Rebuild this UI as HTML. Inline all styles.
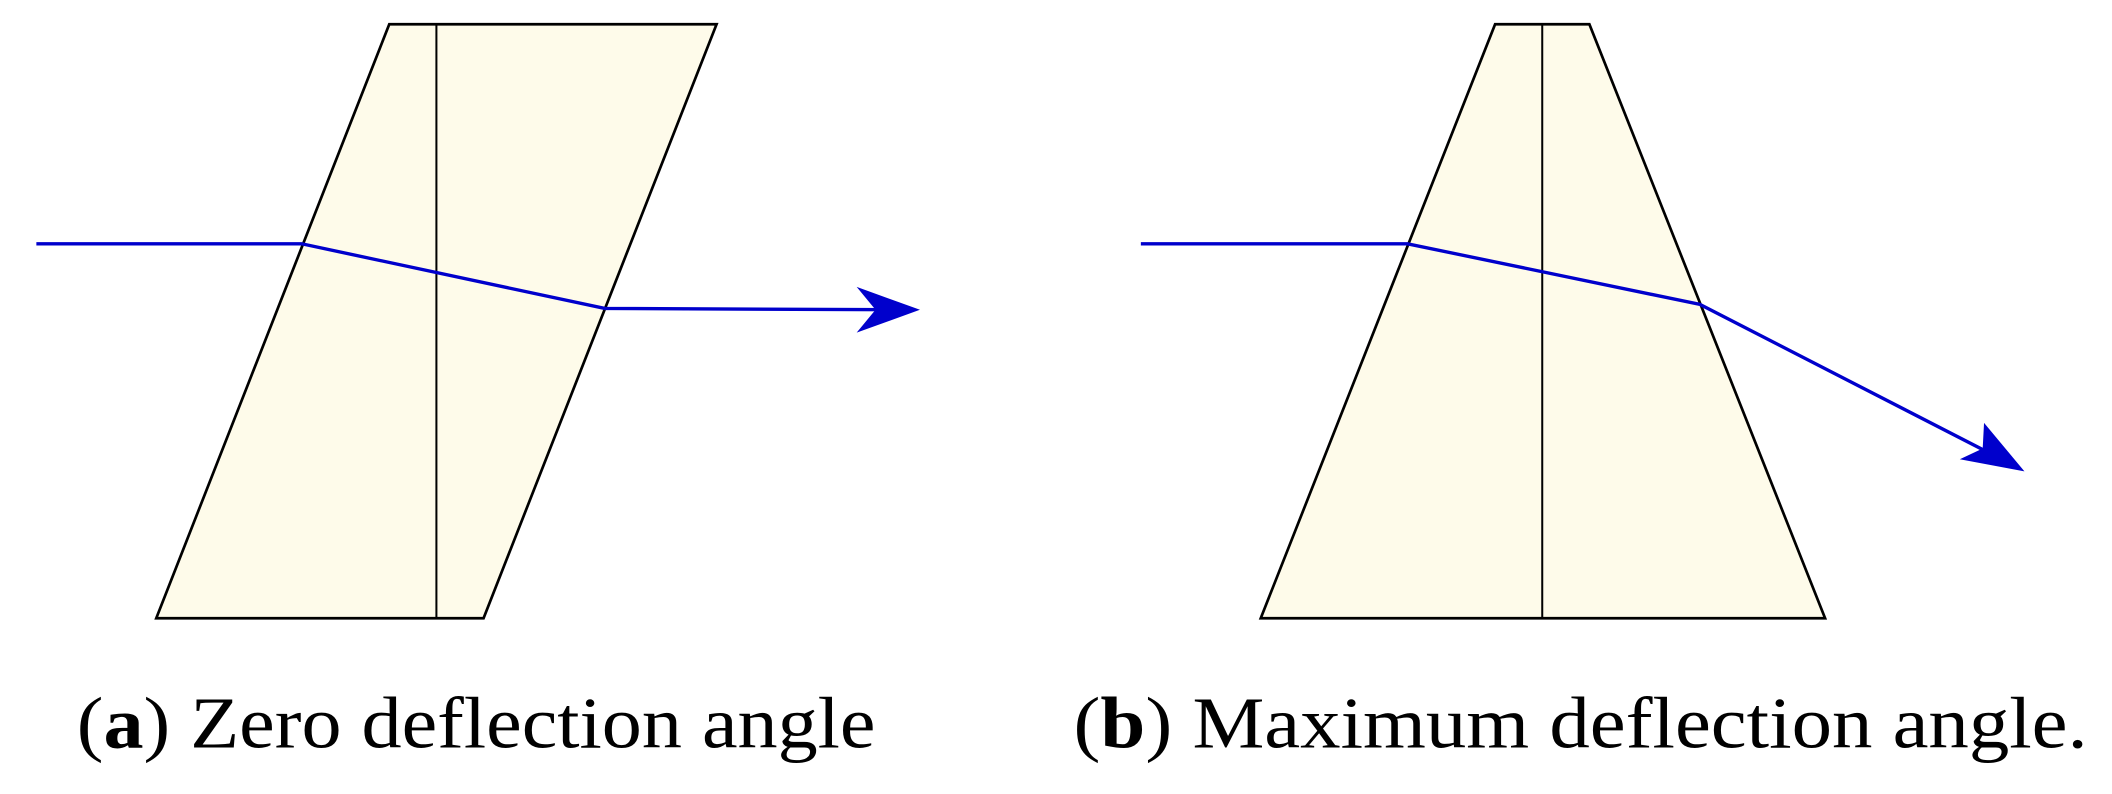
<!DOCTYPE html>
<html><head><meta charset="utf-8"><style>html,body{margin:0;padding:0;background:#fff;}svg{display:block}</style></head>
<body>
<svg width="2112" height="794" viewBox="0 0 1568 589.5" preserveAspectRatio="none" xmlns="http://www.w3.org/2000/svg">
<g stroke="#000" stroke-width="2" fill="#fefbea">
<polygon points="289,18 532,18 359,459 116,459"/>
<polygon points="1110,18 1180,18 1355,459 936,459"/>
</g>
<g stroke="#000" stroke-width="1.5">
<line x1="324" y1="18" x2="324" y2="459"/>
<line x1="1145" y1="18" x2="1145" y2="459"/>
</g>
<g stroke="#0000cc" stroke-width="2.5" fill="none">
<polyline points="27,181 224,181 449,229 670,230"/>
<path d="M683,230 L636,213 L650,230 L636,247 z" fill="#0000cc" stroke="none"/>
<polyline points="847,181 1045,181 1262,226 1490,343"/>
<path d="M1503,350 L1455,341 L1472,333 L1473,314 z" fill="#0000cc" stroke="none"/>
</g>
<g font-family="'Liberation Serif',serif" font-size="54" fill="#000">
<text x="57" y="555" textLength="593" lengthAdjust="spacingAndGlyphs">(<tspan font-weight="bold">a</tspan>) Zero deflection angle</text>
<text x="797" y="555" textLength="753" lengthAdjust="spacingAndGlyphs">(<tspan font-weight="bold">b</tspan>) Maximum deflection angle.</text>
</g>
</svg>
</body></html>
